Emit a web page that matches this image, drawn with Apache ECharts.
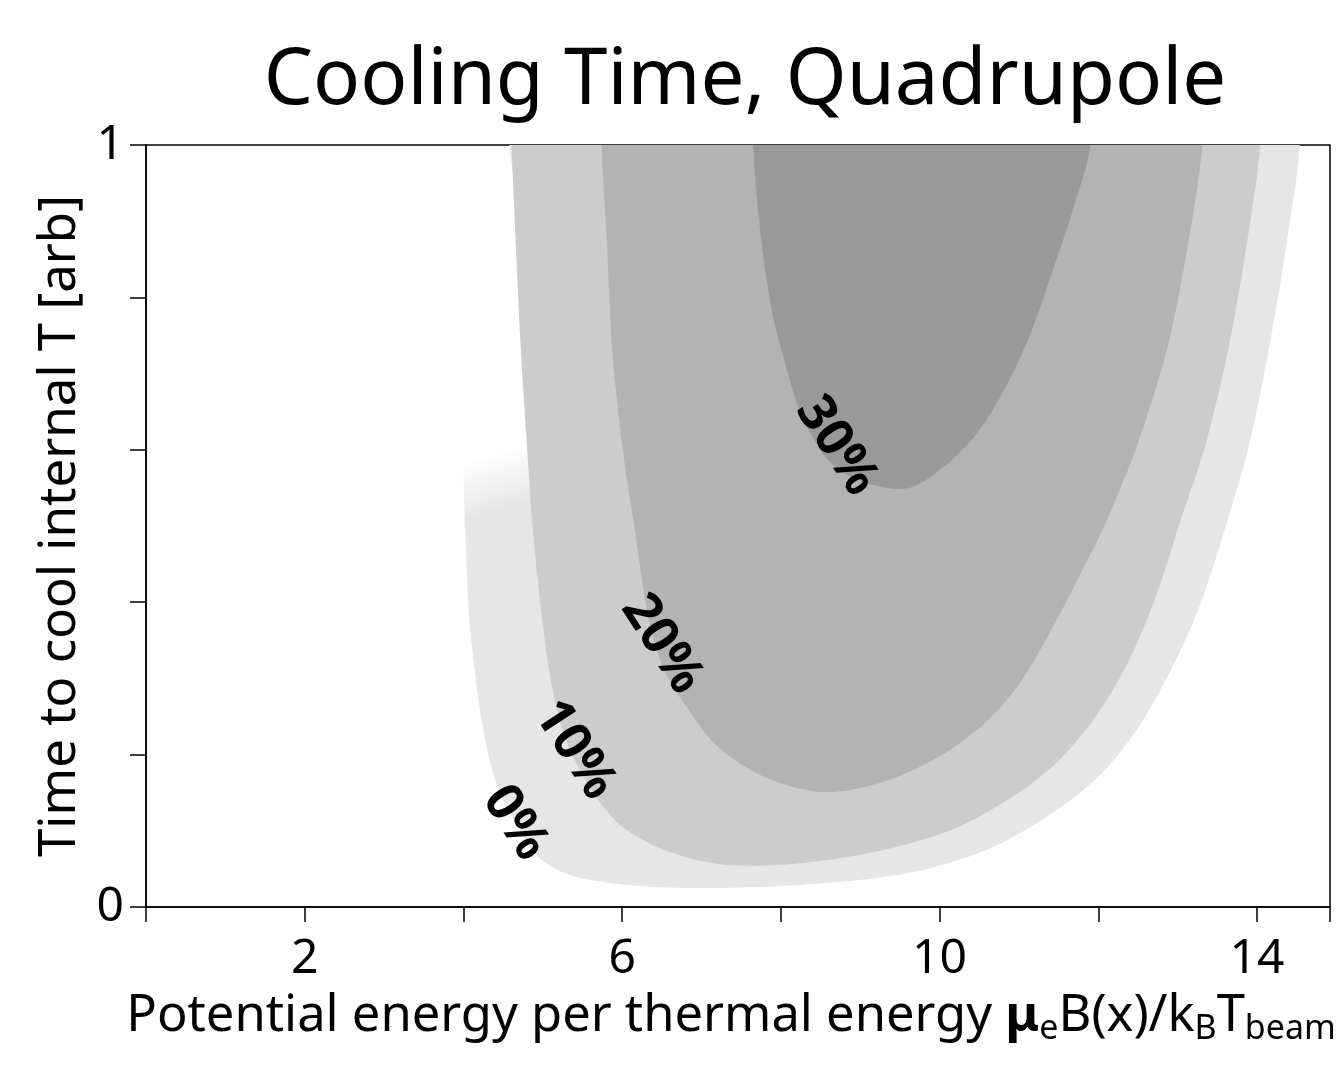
<!DOCTYPE html>
<html>
<head>
<meta charset="utf-8">
<script src="https://cdn.jsdelivr.net/npm/echarts@6/dist/echarts.min.js"></script>
<style>
  html, body { margin: 0; padding: 0; background: #fff; }
  #chart { width: 1337px; height: 1073px; }
</style>
</head>
<body>
<div id="chart"></div>
<script>
// contour edges, [x, y] in data units
const edge0 = [
  [14.54, 1.0], [14.37, 0.869], [14.16, 0.738], [13.90, 0.606], [13.61, 0.501],
  [13.26, 0.390], [12.90, 0.308], [12.50, 0.235], [12.02, 0.173], [11.39, 0.121],
  [10.64, 0.077], [9.88, 0.051], [9.12, 0.037], [8.24, 0.029], [7.11, 0.025],
  [6.06, 0.029], [5.34, 0.042], [4.96, 0.064], [4.67, 0.108], [4.42, 0.160],
  [4.24, 0.239], [4.08, 0.370], [4.02, 0.501], [4.00, 0.573], [4.00, 0.64],
  [4.9, 0.69], [4.9, 1.15], [14.56, 1.15]
];
const edge10 = [
  [4.61, 1.0], [4.66, 0.869], [4.72, 0.738], [4.80, 0.606], [4.87, 0.501],
  [5.00, 0.370], [5.13, 0.282], [5.30, 0.217], [5.63, 0.151], [5.97, 0.108],
  [6.48, 0.077], [7.11, 0.058], [7.74, 0.054], [8.62, 0.062], [9.50, 0.080],
  [10.26, 0.106], [11.01, 0.151], [11.48, 0.190], [11.92, 0.243], [12.34, 0.314],
  [12.71, 0.403], [13.04, 0.508], [13.35, 0.606], [13.65, 0.738], [13.87, 0.869],
  [14.04, 1.0], [14.06, 1.15], [4.60, 1.15]
];
const edge20 = [
  [5.74, 1.0], [5.81, 0.869], [5.87, 0.738], [6.00, 0.606], [6.15, 0.501],
  [6.35, 0.370], [6.56, 0.304], [6.82, 0.261], [7.14, 0.217], [7.52, 0.186],
  [7.95, 0.164], [8.49, 0.151], [8.99, 0.156], [9.50, 0.172], [10.07, 0.202],
  [10.61, 0.245], [11.04, 0.298], [11.42, 0.366], [11.77, 0.436], [12.08, 0.501],
  [12.49, 0.606], [12.88, 0.738], [13.13, 0.869], [13.31, 1.0], [13.33, 1.15],
  [5.73, 1.15]
];
const edge30 = [
  [7.65, 1.0], [7.76, 0.869], [7.89, 0.781], [7.99, 0.738], [8.24, 0.650],
  [8.46, 0.606], [8.62, 0.584], [8.91, 0.563], [9.34, 0.550], [9.65, 0.551],
  [10.00, 0.573], [10.42, 0.615], [10.80, 0.676], [11.14, 0.751], [11.45, 0.843],
  [11.68, 0.915], [11.90, 1.0], [11.93, 1.15], [7.63, 1.15]
];
// white fade on the upper left of the 0% band
const fadeEdge = [[3.85, 0.50], [3.85, 0.66], [4.95, 0.71], [4.95, 0.54]];
const fadeFrom = [4.42, 0.596];
const fadeTo = [4.62, 0.525];

const levelNames = ['0%', '10%', '20%', '30%'];
const levelLabelPos = [[4.65, 0.110], [5.40, 0.206], [6.50, 0.345], [8.70, 0.605]];
const xLabelValues = [2, 6, 10, 14];
const yLabelValues = [0, 1];

const fontFamily = '"Noto Sans", "Open Sans", sans-serif';

const polygon = (points, fill) => ({
  type: 'custom',
  coordinateSystem: 'cartesian2d',
  clip: true,
  silent: true,
  data: [points[0]],
  renderItem: (params, api) => ({
    type: 'polygon',
    shape: { points: points.map((p) => api.coord(p)), smooth: 0.3 },
    style: { fill: fill }
  })
});

const fadeSeries = {
  type: 'custom',
  coordinateSystem: 'cartesian2d',
  clip: true,
  silent: true,
  data: [fadeEdge[0]],
  renderItem: (params, api) => {
    const a = api.coord(fadeFrom);
    const b = api.coord(fadeTo);
    return {
      type: 'polygon',
      shape: { points: fadeEdge.map((p) => api.coord(p)) },
      style: {
        fill: new echarts.graphic.LinearGradient(a[0], a[1], b[0], b[1], [
          { offset: 0, color: 'rgba(255,255,255,1)' },
          { offset: 1, color: 'rgba(255,255,255,0)' }
        ], true)
      }
    };
  }
};

const labelSeries = {
  type: 'custom',
  coordinateSystem: 'cartesian2d',
  silent: true,
  data: levelLabelPos,
  renderItem: (params, api) => {
    const p = api.coord([api.value(0), api.value(1)]);
    return {
      type: 'text',
      x: p[0],
      y: p[1],
      rotation: -57 * Math.PI / 180,
      style: {
        text: levelNames[params.dataIndex],
        fill: '#000',
        font: 'bold 52px ' + fontFamily,
        align: 'center',
        verticalAlign: 'middle'
      }
    };
  }
};

const chart = echarts.init(document.getElementById('chart'));

const option = {
  animation: false,
  backgroundColor: '#fff',
  textStyle: { fontFamily: fontFamily },
  title: {
    text: 'Cooling Time, Quadrupole',
    left: 740,
    textAlign: 'center',
    top: 38,
    textStyle: { fontFamily: fontFamily, fontSize: 78, fontWeight: 'normal', color: '#000' }
  },
  grid: {
    left: 146,
    right: 7,
    top: 145,
    bottom: 166,
    containLabel: false,
    outerBoundsMode: 'none',
    show: true,
    borderColor: '#000',
    borderWidth: 1.5,
    backgroundColor: 'transparent'
  },
  xAxis: {
    type: 'value',
    min: 0,
    max: 14.92,
    interval: 2,
    splitLine: { show: false },
    axisLine: { lineStyle: { color: '#000', width: 1.5 } },
    axisTick: { length: 15, lineStyle: { color: '#000', width: 1.5 } },
    axisLabel: {
      margin: 28,
      fontSize: 48,
      color: '#000',
      fontFamily: fontFamily,
      formatter: (v) => (xLabelValues.includes(v) ? String(v) : '')
    },
    name: 'Potential energy per thermal energy {mu|μ}{sub|e}B(x)/k{sub|B}T{sub|beam}',
    nameLocation: 'middle',
    nameGap: 78,
    nameTextStyle: {
      fontSize: 50.7,
      color: '#000',
      fontFamily: fontFamily,
      lineHeight: 58,
      padding: [0, 14, 0, 0],
      rich: {
        mu: { fontSize: 50.7, fontWeight: 'bold', color: '#000', fontFamily: fontFamily, lineHeight: 58 },
        sub: { fontSize: 34, color: '#000', fontFamily: fontFamily, lineHeight: 26, verticalAlign: 'bottom' }
      }
    }
  },
  yAxis: {
    type: 'value',
    min: 0,
    max: 1,
    interval: 0.2,
    splitLine: { show: false },
    axisLine: { lineStyle: { color: '#000', width: 1.5 } },
    axisTick: { length: 16, lineStyle: { color: '#000', width: 1.5 } },
    axisLabel: {
      margin: 22,
      fontSize: 48,
      color: '#000',
      fontFamily: fontFamily,
      formatter: (v) => (yLabelValues.some((t) => Math.abs(t - v) < 1e-6) ? String(Math.round(v)) : '')
    },
    name: 'Time to cool internal T [arb]',
    nameLocation: 'middle',
    nameGap: 39,
    nameTextStyle: { fontSize: 51, color: '#000', fontFamily: fontFamily }
  },
  series: [
    polygon(edge0, '#e6e6e6'),
    fadeSeries,
    polygon(edge10, '#cccccc'),
    polygon(edge20, '#b3b3b3'),
    polygon(edge30, '#999999'),
    labelSeries
  ]
};

chart.setOption(option);

window.addEventListener('resize', () => chart.resize());
</script>
</body>
</html>
